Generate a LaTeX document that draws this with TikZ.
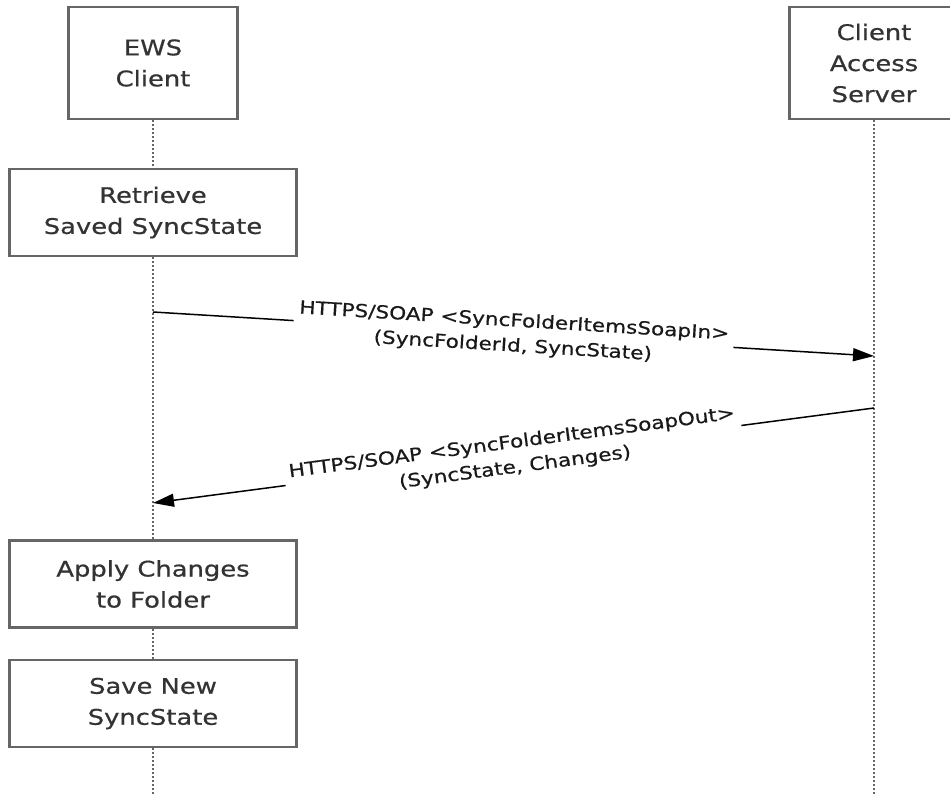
\documentclass[tikz,border=0pt]{standalone}
\usepackage{fontspec}
\setmainfont{DejaVu Sans}[FakeStretch=1.2, FakeBold=0.6]
\usetikzlibrary{positioning, arrows.meta}

\begin{document}
\begin{tikzpicture}[x=1pt, y=-1pt, >={Triangle[length=21pt, width=13pt]},
  box/.style={draw=black!60, line width=2.5pt, fill=white, align=center, inner sep=0pt,
    text=black!80, font=\fontsize{21.5}{31}\selectfont},
  actor/.style={box, minimum width=169pt, minimum height=112pt},
  act/.style={box, minimum width=287pt, minimum height=87pt},
  life/.style={draw=black!60, line width=2.5pt, dash pattern=on 2pt off 2pt},
  msg/.style={->, line width=1.5pt},
  lbl/.style={midway, sloped, fill=white, align=center, inner sep=5pt, text=black!90,
    font=\fontsize{18}{25}\selectfont}]
\useasboundingbox (0,0) rectangle (950,794);
\node[actor] (ews) at (153,63) {EWS\\Client};
\node[actor] (cas) at (874,63) {Client\\Access\\Server};
\node[act] (ret) at (153,212.5) {Retrieve\\Saved SyncState};
\node[act, below=282pt of ret] (apply) {Apply Changes\\to Folder};
\node[act, below=30pt of apply] (save) {Save New\\SyncState};
\coordinate (ewsend) at (153,794);
\coordinate (casend) at (874,794);
% lifelines
\draw[life] (ews) -- (ret);
\draw[life] (ret) -- (apply);
\draw[life] (apply) -- (save);
\draw[life] (save) -- (ewsend);
\draw[life] (cas) -- (casend);
% messages
\coordinate (m1a) at (153,312);
\coordinate (m1b) at (874,356);
\coordinate (m2a) at (874,408);
\coordinate (m2b) at (153,503);
\draw[msg] (m1a) -- node[lbl] {HTTPS/SOAP <SyncFolderItemsSoapIn>\\(SyncFolderId, SyncState)} (m1b);
\draw[msg] (m2a) -- node[lbl] {HTTPS/SOAP <SyncFolderItemsSoapOut>\\(SyncState, Changes)} (m2b);
\end{tikzpicture}
\end{document}
